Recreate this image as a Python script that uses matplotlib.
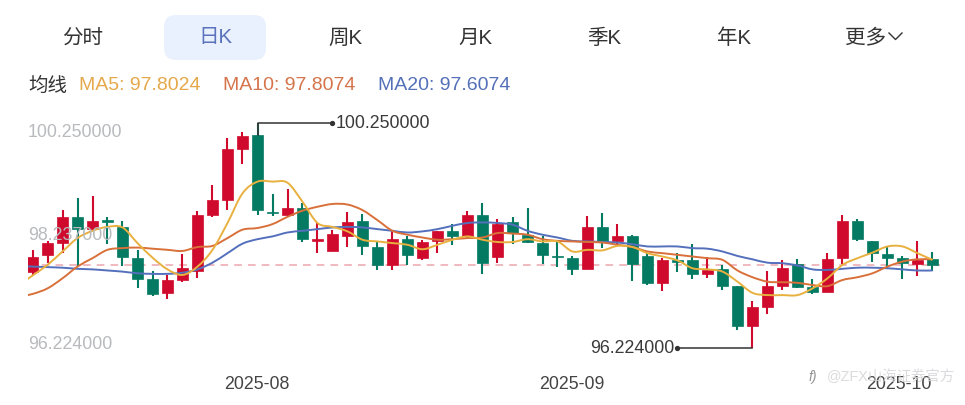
import matplotlib
matplotlib.use("Agg")
import matplotlib.pyplot as plt
from matplotlib.patches import FancyBboxPatch, PathPatch
from matplotlib.path import Path

FONT = ['Liberation Sans', 'Noto Sans CJK SC', 'DejaVu Sans']
plt.rcParams['font.family'] = FONT

tabs = ['分时', '日K', '周K', '月K', '季K', '年K', '更多']
month_labels = ['2025-08', '2025-09', '2025-10']
y_labels = ['100.250000', '98.237000', '96.224000']
ma_labels = ['MA5: 97.8024', 'MA10: 97.8074', 'MA20: 97.6074']
last_price = 97.71

# body top, body bottom, high, low
tops = [97.85,98.10,98.57,98.56,98.50,98.51,98.38,97.84,97.45,97.44,97.66,98.60,98.87,99.78,100.02,100.03,98.66,98.73,98.72,98.18,
        98.26,98.48,98.50,98.03,98.17,98.18,98.12,98.31,98.31,98.60,98.60,98.44,98.47,98.25,98.10,97.87,97.83,98.39,98.39,98.23,98.23,
        97.87,97.80,97.80,97.79,97.61,97.64,97.33,96.95,97.33,97.65,97.72,97.31,97.82,98.49,98.50,98.13,97.91,97.83,97.80,97.81]
bottoms = [97.58,97.88,98.11,98.35,98.35,98.47,97.85,97.46,97.19,97.20,97.44,97.60,98.60,98.88,99.79,98.69,98.63,98.61,98.17,98.14,
           97.96,98.23,98.04,97.71,97.71,97.88,97.83,98.14,98.22,98.23,97.75,97.85,98.28,98.12,97.88,97.85,97.64,97.64,98.13,98.13,97.73,
           97.39,97.39,97.77,97.55,97.55,97.34,96.62,96.61,96.95,97.33,97.32,97.23,97.22,97.83,98.17,97.92,97.83,97.74,97.73,97.71]
highs = [97.97,98.14,98.69,98.90,98.94,98.56,98.50,97.98,97.60,97.53,97.90,98.68,99.14,99.98,100.09,100.25,98.97,99.07,98.82,98.46,
         98.34,98.66,98.62,98.13,98.31,98.22,98.16,98.32,98.44,98.68,98.82,98.54,98.56,98.72,98.22,98.13,97.87,98.59,98.63,98.44,98.25,
         97.92,97.83,97.93,98.09,97.86,97.70,97.33,97.07,97.60,97.80,97.82,97.45,97.92,98.60,98.53,98.13,98.04,97.87,98.13,97.94]
lows = [97.53,97.75,97.92,97.69,98.34,98.09,97.69,97.30,97.15,97.10,97.41,97.48,98.57,98.69,99.52,98.60,98.59,98.57,98.12,97.93,
        97.95,98.03,97.89,97.62,97.62,97.71,97.80,97.93,98.07,98.19,97.55,97.75,98.08,98.11,97.73,97.68,97.53,97.64,98.01,98.07,97.43,
        97.35,97.25,97.59,97.46,97.48,97.26,96.55,96.224,96.83,97.26,97.29,97.19,97.22,97.73,98.13,97.77,97.65,97.45,97.51,97.60]
is_up = [1,1,1,0,1,0,0,0,0,1,1,1,1,1,1,0,0,1,0,1,
         1,1,0,0,1,0,1,1,0,1,0,1,0,0,0,0,0,1,0,1,0,
         0,1,0,0,1,0,0,1,1,1,0,0,1,1,0,0,0,0,1,0]

# each average starts one trading day before the first visible candle
ma5 = [97.33,97.52,97.71,97.95,98.19,98.32,98.39,98.38,98.10,97.84,97.63,97.53,97.68,97.98,98.46,98.99,99.20,99.20,99.18,98.84,98.46,
       98.39,98.31,98.16,98.13,98.10,98.07,97.99,98.07,98.16,98.22,98.16,98.12,98.12,98.17,98.13,98.13,97.95,97.98,97.97,98.05,98.03,
       97.92,97.86,97.79,97.65,97.63,97.59,97.41,97.21,97.17,97.17,97.17,97.29,97.47,97.71,97.83,97.93,98.04,98.04,97.92,97.80]
ma10 = [97.13,97.19,97.29,97.47,97.68,97.83,97.98,98.01,98.02,98.00,97.98,97.96,98.03,98.05,98.19,98.34,98.37,98.44,98.57,98.68,98.75,
        98.80,98.79,98.69,98.51,98.32,98.25,98.20,98.16,98.17,98.19,98.20,98.28,98.27,98.25,98.17,98.14,98.13,98.12,98.11,98.07,98.03,
        97.95,97.92,97.89,97.86,97.83,97.80,97.61,97.49,97.41,97.40,97.39,97.35,97.33,97.44,97.49,97.56,97.68,97.77,97.81,97.81]
ma20 = [97.69,97.68,97.67,97.66,97.64,97.63,97.61,97.59,97.56,97.55,97.55,97.57,97.63,97.75,97.92,98.09,98.17,98.22,98.29,98.32,98.35,
        98.38,98.39,98.38,98.35,98.32,98.29,98.31,98.35,98.41,98.46,98.47,98.46,98.43,98.32,98.25,98.20,98.14,98.13,98.12,98.11,98.08,
        98.04,98.04,98.04,98.01,98.00,97.95,97.87,97.81,97.75,97.74,97.70,97.63,97.62,97.64,97.66,97.66,97.65,97.63,97.61,97.61]

RED, GREEN = '#cf0a2c', '#047a63'
C5, C10, C20 = '#e8b03f', '#d9703a', '#5470bd'
W, H = 965, 406


def smooth_line(axis, values, color, z):
    """Smooth curve through every value (first value sits at x=-1)."""
    pts = [(i - 1, v) for i, v in enumerate(values)]
    verts = [pts[0]]
    codes = [Path.MOVETO]
    n = len(pts)
    for i in range(n - 1):
        p0 = pts[max(i - 1, 0)]
        p1 = pts[i]
        p2 = pts[i + 1]
        p3 = pts[min(i + 2, n - 1)]
        verts += [(p1[0] + (p2[0] - p0[0]) / 6, p1[1] + (p2[1] - p0[1]) / 6),
                  (p2[0] - (p3[0] - p1[0]) / 6, p2[1] - (p3[1] - p1[1]) / 6),
                  p2]
        codes += [Path.CURVE4, Path.CURVE4, Path.CURVE4]
    axis.add_patch(PathPatch(Path(verts, codes), fill=False, edgecolor=color, lw=1.4, zorder=z))


fig = plt.figure(figsize=(W / 100, H / 100), dpi=100, facecolor='white')

# price chart: slots of 15 px, candle 0 centred at x=32.5; y=101 to y=371
ax = fig.add_axes([27.5 / W, 1 - 371 / H, 912.5 / W, 270 / H])
ax.set_xlim(-1 / 3, 60.5)
ax.set_ylim(95.83, 100.66)
ax.axis('off')

ax.axhline(last_price, color='#eba5ad', lw=1.1, ls=(0, (5, 4)), zorder=1)
for i in range(len(tops)):
    c = RED if is_up[i] else GREEN
    ax.vlines(i, lows[i], highs[i], color=c, lw=1.5, zorder=2)
    ax.bar(i, tops[i] - bottoms[i], bottom=bottoms[i], width=0.67, color=c, linewidth=0.5, edgecolor=c, zorder=3)

smooth_line(ax, ma20, C20, 4)
smooth_line(ax, ma10, C10, 5)
smooth_line(ax, ma5, C5, 6)

# max / min markers
imax = highs.index(max(highs))
imin = lows.index(min(lows))
ax.plot([imax, imax, imax + 5], [highs[imax] - 0.22, highs[imax], highs[imax]], color='#333333', lw=1.1, zorder=7)
ax.plot([imax + 5], [highs[imax]], 'o', ms=2.8, color='#333333', zorder=7)
ax.text(imax + 5.2, highs[imax], '100.250000', fontsize=12.8, color='#3a3a3a', va='center', ha='left')
ax.plot([imin, imin - 5], [lows[imin], lows[imin]], color='#333333', lw=1.1, zorder=7)
ax.plot([imin - 5], [lows[imin]], 'o', ms=2.8, color='#333333', zorder=7)
ax.text(imin - 5.2, lows[imin], '96.224000', fontsize=12.8, color='#3a3a3a', va='center', ha='right')

# page furniture, in pixel coordinates
ov = fig.add_axes([0, 0, 1, 1], facecolor='none')
ov.set_xlim(0, W)
ov.set_ylim(H, 0)
ov.axis('off')

ov.add_patch(FancyBboxPatch((164, 16), 102, 45, boxstyle='round,pad=0,rounding_size=12',
                            linewidth=0, facecolor='#e8f1fd', zorder=0))
tab_x = [82.5, 215.5, 345, 475, 604, 734, 866]
for t, x in zip(tabs, tab_x):
    ov.text(x, 38, t, fontsize=14.8, ha='center', va='center', color='#5b72bd' if t == '日K' else '#333333')
ov.plot([889, 895.5, 902], [34, 40.5, 34], color='#333333', lw=1.0)

ov.text(28, 86, '均线', fontsize=14, ha='left', va='center', color='#333333')
for label, x, c in zip(ma_labels, [79, 223, 378], ['#e5a84a', '#d5744a', '#5470b8']):
    ov.text(x, 86, label, fontsize=14, ha='left', va='center', color=c)

for label, y in zip(y_labels, [133, 235.5, 344.5]):
    ov.text(28, y, label, fontsize=12.8, ha='left', va='center', color='#b8babd', zorder=1)

for label, x in zip(month_labels, [257, 572, 899]):
    ov.text(x, 385, label, fontsize=12.8, ha='center', va='center', color='#444444')

ov.text(809, 377, 'f)', fontsize=10, style='italic', ha='left', va='center', color='#777777', alpha=0.8)
ov.text(827, 377, '@ZFX山海证券官方', fontsize=10.4, ha='left', va='center', color='#d5d5d8', alpha=0.85)

fig.savefig('out.png', dpi=100)
